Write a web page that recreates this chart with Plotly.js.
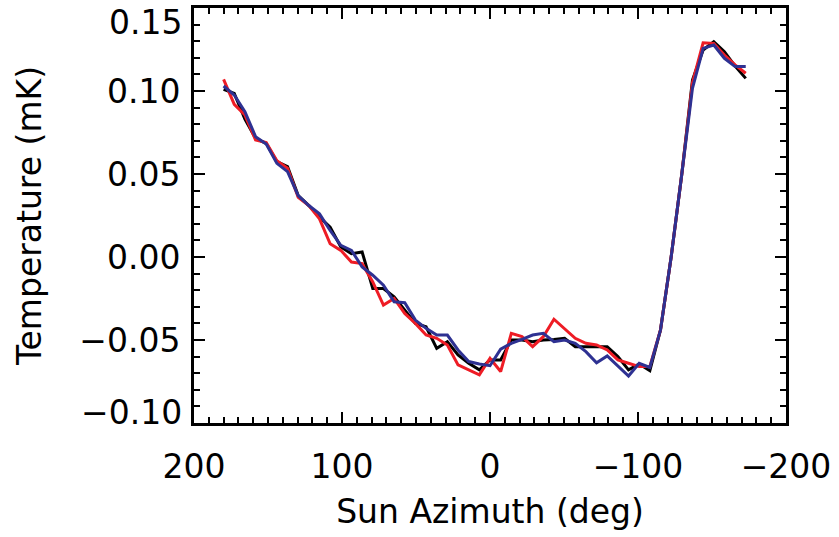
<!DOCTYPE html>
<html>
<head>
<meta charset="utf-8">
<script src="https://cdn.plot.ly/plotly-3.0.1.min.js"></script>
<style>
html,body{margin:0;padding:0;background:#fff;}
#chart{width:839px;height:537px;}
</style>
</head>
<body>
<div id="chart"></div>
<script>
// Sun azimuth (deg): 50 bins, 7.2 deg apart, from 180 down to -172.8
const azimuth = [180,172.8,165.6,158.4,151.2,144,136.8,129.6,122.4,115.2,
  108,100.8,93.6,86.4,79.2,72,64.8,57.6,50.4,43.2,
  36,28.8,21.6,14.4,7.2,0,-7.2,-14.4,-21.6,-28.8,
  -36,-43.2,-50.4,-57.6,-64.8,-72,-79.2,-86.4,-93.6,-100.8,
  -108,-115.2,-122.4,-129.6,-136.8,-144,-151.2,-158.4,-165.6,-172.8];

const tempBlack = [0.101,0.0986,0.083,0.0715,0.0685,0.0574,0.0545,0.037,0.031,0.024,
  0.018,0.006,0.002,0.003,-0.019,-0.019,-0.024,-0.032,-0.040,-0.042,
  -0.055,-0.051,-0.059,-0.064,-0.068,-0.062,-0.062,-0.050,-0.050,-0.051,
  -0.050,-0.0497,-0.049,-0.054,-0.054,-0.054,-0.054,-0.060,-0.068,-0.0645,
  -0.0685,-0.044,0.0,0.05,0.1066,0.1247,0.1297,0.1237,0.115,0.1076];

const tempRed = [0.107,0.092,0.0855,0.0705,0.069,0.058,0.0535,0.036,0.031,0.023,
  0.008,0.004,-0.003,-0.004,-0.015,-0.029,-0.025,-0.034,-0.040,-0.047,
  -0.049,-0.053,-0.065,-0.068,-0.071,-0.061,-0.069,-0.046,-0.048,-0.054,
  -0.048,-0.0375,-0.043,-0.049,-0.052,-0.053,-0.056,-0.062,-0.064,-0.066,
  -0.066,-0.044,0.0,0.05,0.105,0.129,0.1287,0.1217,0.1157,0.1107];

const tempBlue = [0.103,0.0976,0.0875,0.0725,0.068,0.0564,0.0514,0.037,0.031,0.026,
  0.016,0.007,0.004,-0.006,-0.011,-0.017,-0.027,-0.0275,-0.038,-0.043,
  -0.047,-0.047,-0.056,-0.063,-0.0645,-0.0655,-0.0555,-0.052,-0.0496,-0.047,
  -0.046,-0.051,-0.050,-0.052,-0.057,-0.0637,-0.0596,-0.0657,-0.0717,-0.064,
  -0.0665,-0.044,0.0,0.05,0.1016,0.1257,0.1277,0.1197,0.1147,0.1147];

const xTicks = [200,100,0,-100,-200];
const yTicks = [-0.10,-0.05,0.00,0.05,0.10,0.15];

const FONT = 'DejaVu Sans, sans-serif';
const FS = 33;

const fmtY = v => (v < 0 ? '\u2212' : '') + Math.abs(v).toFixed(2);
const yMin = Math.min(...yTicks), yMax = Math.max(...yTicks);

const traces = [
  {x: azimuth, y: tempBlack, mode:'lines', line:{color:'#000000', width:3}, name:'black'},
  {x: azimuth, y: tempRed, mode:'lines', line:{color:'#ee1c25', width:3}, name:'red'},
  {x: azimuth, y: tempBlue, mode:'lines', line:{color:'#2e3192', width:3}, name:'blue'}
];

const axisCommon = {
  showgrid:false, zeroline:false, showline:true, linecolor:'#000', linewidth:3,
  mirror:'allticks', ticks:'inside', ticklen:11, tickwidth:2.5, tickcolor:'#000',
  tickfont:{family:FONT, size:FS, color:'#000'}
};

// end labels of the y axis sit just inside the frame, as in the original
const endLabels = [
  {v: yMax, shift: -14},
  {v: yMin, shift: 11}
].map(o => ({
  xref:'paper', x:0, xanchor:'right', xshift:-10,
  yref:'y', y:o.v, yanchor:'middle', yshift:o.shift,
  text: fmtY(o.v), showarrow:false,
  font:{family:FONT, size:FS, color:'#000'}
}));

const layout = {
  width:839, height:537,
  margin:{l:194, r:53, t:8, b:114},
  paper_bgcolor:'#fff', plot_bgcolor:'#fff',
  showlegend:false,
  font:{family:FONT, color:'#000'},
  annotations: endLabels,
  xaxis: Object.assign({}, axisCommon, {
    range:[200,-200], tickmode:'array', tickvals:xTicks,
    ticktext: xTicks.map(v => v < 0 ? '\u2212' + Math.abs(v) : String(v)),
    minor:{dtick:10, ticks:'inside', ticklen:6, tickwidth:2, tickcolor:'#000'},
    ticklabelstandoff: 12,
    title:{text:'Sun Azimuth (deg)', font:{family:FONT, size:FS, color:'#000'}, standoff:16}
  }),
  yaxis: Object.assign({}, axisCommon, {
    range:[yMin, yMax], tickmode:'array', tickvals:yTicks,
    ticktext: yTicks.map(v => (v === yMin || v === yMax) ? '' : fmtY(v)),
    minor:{dtick:0.01, tick0:0, ticks:'inside', ticklen:6, tickwidth:2, tickcolor:'#000'},
    ticklabelstandoff: 4,
    title:{text:'Temperature (mK)', font:{family:FONT, size:FS, color:'#000'}, standoff:28}
  })
};

Plotly.newPlot('chart', traces, layout, {displayModeBar:false, staticPlot:true});
</script>
</body>
</html>
